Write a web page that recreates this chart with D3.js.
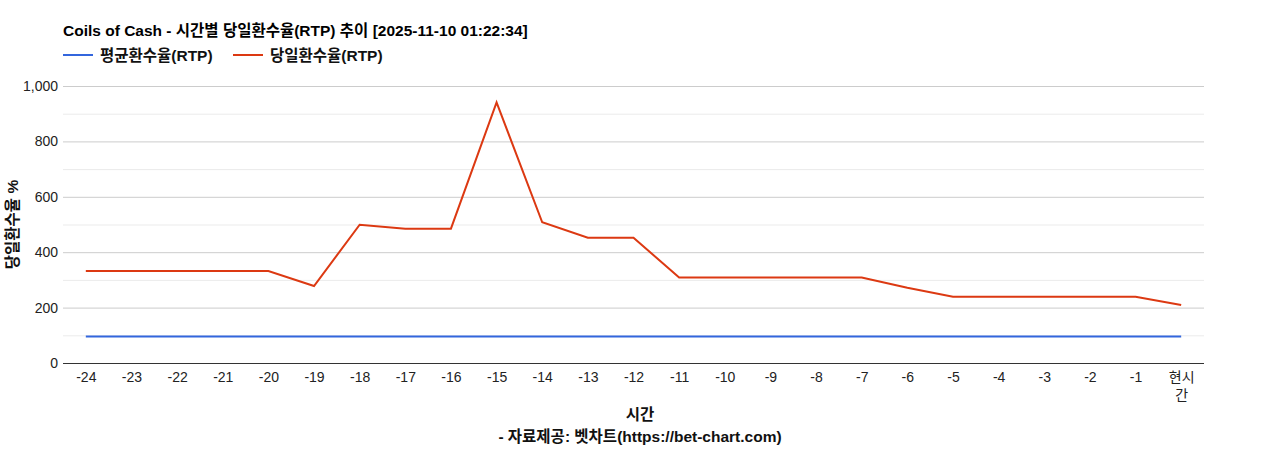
<!DOCTYPE html>
<html><head><meta charset="utf-8">
<script src="https://cdn.jsdelivr.net/npm/d3@7"></script>
<style>body{margin:0;background:#fff;font-family:"Liberation Sans","Noto Sans CJK KR",sans-serif;}</style>
</head><body>
<svg id="c" width="1268" height="450"></svg>
<script>
const categories = ["-24","-23","-22","-21","-20","-19","-18","-17","-16","-15","-14","-13","-12","-11","-10","-9","-8","-7","-6","-5","-4","-3","-2","-1","현시간"];
const avgRTP = [96,96,96,96,96,96,96,96,96,96,96,96,96,96,96,96,96,96,96,96,96,96,96,96,96];
const dayRTP = [332,332,332,332,332,278,499,485,485,941,508,452,452,309,309,309,309,309,272,239,239,239,239,239,209];
const yTicks = [0,200,400,600,800,1000];
const minorTicks = [100,300,500,700,900];
const titleText = "Coils of Cash - 시간별 당일환수율(RTP) 추이 [2025-11-10 01:22:34]";
const seriesNames = ["평균환수율(RTP)","당일환수율(RTP)"];
const colors = ["#3366dd","#dc3912"];

const svg = d3.select("#c");
const L=63, R=1204, T=86, B=363;
const x = d3.scalePoint().domain(categories).range([L,R]).padding(0.5);
const y = d3.scaleLinear().domain([0,1000]).range([B,T]);
const font = '"Liberation Sans","Noto Sans CJK KR",sans-serif';
const bfs = 15.5;

svg.append("g").selectAll("line").data(minorTicks).join("line")
  .attr("x1",L).attr("x2",R).attr("y1",d=>y(d)+0.5).attr("y2",d=>y(d)+0.5)
  .attr("stroke","#ebebeb").attr("stroke-width",1);
svg.append("g").selectAll("line").data(yTicks.filter(d=>d>0)).join("line")
  .attr("x1",L).attr("x2",R).attr("y1",d=>y(d)+0.5).attr("y2",d=>y(d)+0.5)
  .attr("stroke","#cccccc").attr("stroke-width",1);

const yAxis = svg.append("g").attr("transform",`translate(${L},0)`)
  .call(d3.axisLeft(y).tickValues(yTicks).tickSize(0).tickPadding(5).tickFormat(d3.format(",")));
yAxis.select(".domain").remove();
yAxis.selectAll("text").attr("font-family",font).attr("font-size",14).attr("fill","#222");

const line = d3.line().x((d,i)=>x(categories[i])).y(d=>y(d));
[avgRTP, dayRTP].forEach((s,k)=>{
  svg.append("path").datum(s).attr("d",line).attr("fill","none")
    .attr("stroke",colors[k]).attr("stroke-width",2).attr("stroke-linejoin","miter");
});

svg.append("line").attr("x1",L).attr("x2",R).attr("y1",B+0.5).attr("y2",B+0.5).attr("stroke","#333").attr("stroke-width",1);
const xg = svg.append("g").attr("transform",`translate(0,${B})`)
  .call(d3.axisBottom(x).tickSize(0).tickPadding(9));
xg.select(".domain").remove();
xg.selectAll("text").attr("font-family",font).attr("font-size",14).attr("fill","#222");
xg.selectAll(".tick text").each(function(d){
  if(d==="현시간"){
    const t=d3.select(this); t.text(null);
    t.append("tspan").attr("x",0).attr("dy","0.71em").text("현시");
    t.append("tspan").attr("x",0).attr("dy","1.3em").text("간");
  }
});

svg.append("text").attr("x",L).attr("y",36).attr("font-family",font).attr("font-size",bfs)
  .attr("font-weight","bold").attr("fill","#000").text(titleText);
const lx=[63,233];
seriesNames.forEach((n,k)=>{
  svg.append("line").attr("x1",lx[k]).attr("x2",lx[k]+30).attr("y1",55).attr("y2",55)
    .attr("stroke",colors[k]).attr("stroke-width",2);
  svg.append("text").attr("x",lx[k]+37).attr("y",60.5).attr("font-family",font).attr("font-size",bfs)
    .attr("font-weight","bold").attr("fill","#111").text(n);
});

svg.append("text").attr("transform",`translate(18,${(T+B)/2}) rotate(-90)`).attr("text-anchor","middle")
  .attr("font-family",font).attr("font-size",bfs).attr("font-weight","bold").attr("fill","#111").text("당일환수율 %");
svg.append("text").attr("x",640).attr("y",420).attr("text-anchor","middle")
  .attr("font-family",font).attr("font-size",bfs).attr("font-weight","bold").attr("fill","#111").text("시간");
svg.append("text").attr("x",640).attr("y",442).attr("text-anchor","middle")
  .attr("font-family",font).attr("font-size",bfs).attr("font-weight","bold").attr("fill","#111").text("- 자료제공: 벳차트(https://bet-chart.com)");
</script>
</body></html>
